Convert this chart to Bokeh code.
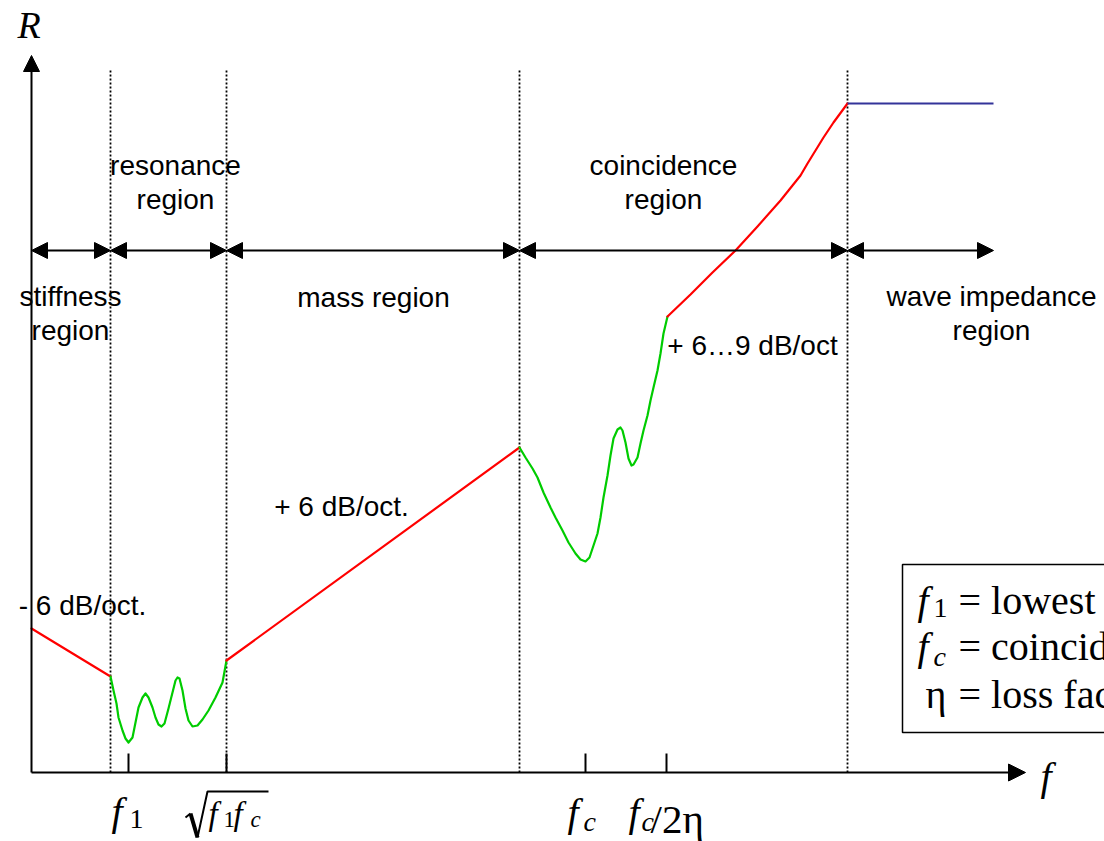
from bokeh.plotting import figure
from bokeh.models import Range1d, Arrow, NormalHead, ColumnDataSource
from bokeh.core.properties import value
from bokeh.embed import file_html
from bokeh.resources import INLINE

# ---- schematic data (f along the frequency axis, R = transmission loss) ----
region_bounds = [79, 195, 488, 816]          # f1-start, sqrt(f1 fc), coincidence start, wave-impedance start
span_edges = [0, 79, 195, 488, 816, 962]     # extents of the region arrows
tick_pos = [97, 195, 554, 635]               # f1, sqrt(f1 fc), fc, fc/2eta

stiff_f = [0, 79]
stiff_R = [144, 96]

res_f = [79, 82, 85, 87, 91, 94, 97, 101, 104, 107, 111, 114, 117, 121, 124, 127, 130,
         133, 137, 141, 144, 146, 148, 151, 154, 157, 161, 166, 171, 177, 184, 191, 195]
res_R = [96, 82, 69, 55, 42, 34, 30, 35, 50, 65, 75, 79, 75, 65, 55, 48, 46,
         49, 64, 80, 92, 95, 94, 82, 64, 52, 46, 47, 53, 62, 75, 90, 112]

mass_f = [195, 488]
mass_R = [112, 325]

coin_f = [488, 494, 501, 506, 512, 519, 524, 531, 537, 544, 549, 554, 558, 562, 566, 569,
          572, 576, 579, 582, 586, 589, 591, 594, 597, 600, 602, 606, 609, 612, 616, 619,
          622, 626, 629, 632, 636]
coin_R = [325, 315, 304, 295, 280, 265, 255, 242, 230, 219, 213, 211, 215, 227, 239, 255,
          275, 297, 317, 334, 343, 345, 342, 330, 314, 307, 308, 315, 329, 342, 357, 372,
          385, 402, 419, 439, 456]

upper_f = [636, 659, 681, 704, 726, 749, 769, 776, 784, 792, 802, 816]
upper_R = [456, 478, 500, 522, 546, 572, 597, 609, 622, 635, 650, 669]

wave_f = [816, 962]
wave_R = [669, 669]

region_names = ["resonance\nregion", "coincidence\nregion", "stiffness\nregion",
                "mass region", "wave impedance\nregion"]
slope_names = ["- 6 dB/oct.", "+ 6 dB/oct.", "+ 6\u20269 dB/oct"]

RED = "#FF0000"
GREEN = "#00CC00"
NAVY = "#333399"
SANS = value("Liberation Sans")
SERIF = value("Liberation Serif")

p = figure(width=1104, height=841,
           x_range=Range1d(-31, 1073), y_range=Range1d(-69, 772),
           x_axis_location=None, y_axis_location=None,
           output_backend="svg", toolbar_location=None, min_border=0)
p.grid.visible = False
p.outline_line_color = None
p.background_fill_color = "white"
p.border_fill_color = "white"

# region boundaries (dotted)
p.segment(x0=region_bounds, y0=[0] * 4, x1=region_bounds, y1=[702] * 4,
          line_color="black", line_width=1.8, line_dash="2 2")

# axes with arrow heads
p.add_layout(Arrow(x_start=0, y_start=0, x_end=0, y_end=717, line_width=2,
                   end=NormalHead(size=16, fill_color="black", line_color="black")))
p.add_layout(Arrow(x_start=0, y_start=0, x_end=994, y_end=0, line_width=2,
                   end=NormalHead(size=17, fill_color="black", line_color="black")))

# tick marks on the f axis
p.segment(x0=tick_pos, y0=[0] * 4, x1=tick_pos, y1=[19] * 4,
          line_color="black", line_width=2)

# double-headed region arrows
spans = ColumnDataSource(dict(x0=span_edges[:-1], x1=span_edges[1:],
                              y=[522] * (len(span_edges) - 1)))
p.add_layout(Arrow(source=spans, x_start="x0", y_start="y", x_end="x1", y_end="y",
                   line_width=2,
                   start=NormalHead(size=16, fill_color="black", line_color="black"),
                   end=NormalHead(size=16, fill_color="black", line_color="black")))

# transmission loss curve
curve_style = dict(line_width=2.2, line_join="round", line_cap="round")
p.line(stiff_f, stiff_R, line_color=RED, **curve_style)
p.line(res_f, res_R, line_color=GREEN, **curve_style)
p.line(mass_f, mass_R, line_color=RED, **curve_style)
p.line(coin_f, coin_R, line_color=GREEN, **curve_style)
p.line(upper_f, upper_R, line_color=RED, **curve_style)
p.line(wave_f, wave_R, line_color=NAVY, line_width=2)

# region names
p.text(x=[144, 632, 39, 342, 960], y=[590, 590, 459, 475, 459], text=region_names,
       text_align="center", text_baseline="middle", text_font=SANS,
       text_font_size="28px", text_line_height=1.08, text_color="black")

# slope annotations
p.text(x=[51, 310, 721], y=[167, 266, 427], text=slope_names,
       text_align="center", text_baseline="middle", text_font=SANS,
       text_font_size="28px", text_color="black")

# legend box
p.quad(left=[871], right=[1090], bottom=[40], top=[208],
       fill_color=None, line_color="black", line_width=1.5)

# symbols: axis names, tick labels, legend entries
sym = ColumnDataSource(dict(
    text=["R", "f",
          "f", "1",
          "f", "1", "f", "c",
          "f", "c",
          "f", "c", "/2\u03b7",
          "f", "1", "= lowest natural frequency",
          "f", "c", "= coincidence frequency",
          "\u03b7", "= loss factor"],
    x=[-14, 1009,
       80, 98,
       177, 192, 202, 219,
       536, 552,
       597, 610, 619,
       886, 902, 927,
       886, 902, 927,
       894, 927],
    y=[748, -4,
       -39, -46,
       -41, -47, -41, -47,
       -40, -49,
       -40, -49, -46,
       172, 165, 172,
       126, 116, 126,
       78, 78],
    size=["38px", "40px",
          "40px", "28px",
          "33px", "23px", "33px", "23px",
          "40px", "28px",
          "40px", "28px", "41px",
          "40px", "28px", "40px",
          "40px", "28px", "40px",
          "40px", "40px"],
    style=["italic", "italic",
           "italic", "normal",
           "italic", "normal", "italic", "italic",
           "italic", "italic",
           "italic", "italic", "normal",
           "italic", "normal", "normal",
           "italic", "italic", "normal",
           "normal", "normal"],
))
p.text(x="x", y="y", text="text", source=sym, text_font=SERIF,
       text_font_size="size", text_font_style="style",
       text_align="left", text_baseline="alphabetic", text_color="black")

# radical sign over f1 fc
p.line([154, 159], [-45, -41], line_color="black", line_width=2)
p.line([159, 166], [-41, -65], line_color="black", line_width=4)
p.line([166, 176, 237], [-65, -19, -19], line_color="black", line_width=2)

open("out.html", "w").write(file_html(p, INLINE))
